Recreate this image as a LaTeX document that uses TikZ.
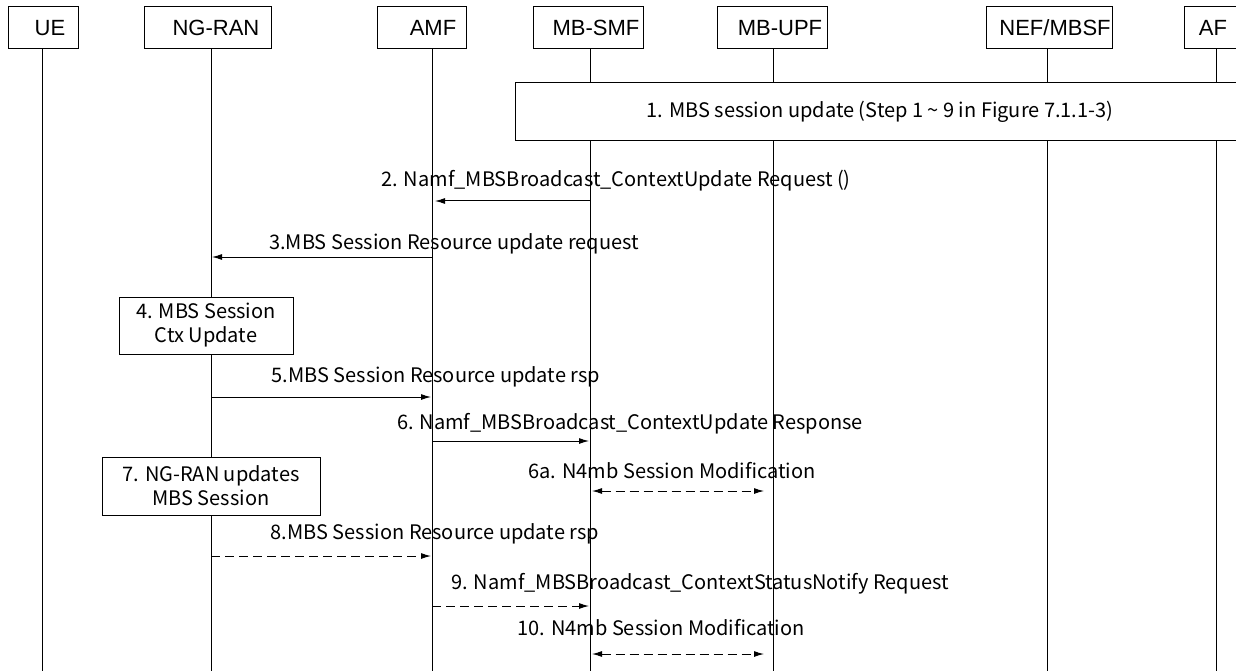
\documentclass[tikz,border=0pt]{standalone}
\usepackage{fontspec}
\setmainfont{Liberation Sans}
\newfontfamily\msgfont{Noto Sans CJK KR}
\usetikzlibrary{arrows.meta, positioning}

\begin{document}
\begin{tikzpicture}[x=1pt, y=-1pt, line width=1pt,
        hdr/.style={draw, minimum height=42pt, inner sep=0pt},
        hdrtxt/.style={inner sep=0pt, font=\fontsize{22}{26}\selectfont},
        lbl/.style={inner sep=0pt, anchor=base, font=\msgfont\fontsize{20}{24}\selectfont},
        actbox/.style={draw, fill=white, inner sep=0pt, align=center, font=\msgfont\fontsize{20}{24}\selectfont},
        msg/.style={-{Latex[length=10pt,width=6pt]}, shorten >=1pt},
        rsp/.style={msg, dash pattern=on 9pt off 5pt},
        bidir/.style={{Latex[length=10pt,width=6pt]}-{Latex[length=10pt,width=6pt]}, shorten <=2pt, shorten >=9pt, dash pattern=on 9pt off 5pt}]
        \useasboundingbox (0,0) rectangle (1236,671);
        % entities
        \node[hdr, minimum width=70pt] (ue) at (43,28) {};
        \node[hdrtxt] (ue-t) at (50,28) {UE};
        \node[hdr, minimum width=127pt] (ngran) at (207.5,28) {};
        \node[hdrtxt] (ngran-t) at (216,28) {NG-RAN};
        \node[hdr, minimum width=89pt] (amf) at (421.5,28) {};
        \node[hdrtxt] (amf-t) at (433,28) {AMF};
        \node[hdr, minimum width=110pt] (mbsmf) at (588,28) {};
        \node[hdrtxt] (mbsmf-t) at (596,28) {MB-SMF};
        \node[hdr, minimum width=110pt] (mbupf) at (772,28) {};
        \node[hdrtxt] (mbupf-t) at (780,28) {MB-UPF};
        \node[hdr, minimum width=126pt] (nef) at (1049,28) {};
        \node[hdrtxt] (nef-t) at (1055,28) {NEF/MBSF};
        \node[hdr, minimum width=70pt] (af) at (1219,28) {};
        \node[hdrtxt] (af-t) at (1213,28) {AF};
        % lifelines
        \coordinate (bot) at (0,671);
        \coordinate (ue-l) at (42,49);
        \coordinate (ngran-l) at (211,49);
        \coordinate (amf-l) at (432,49);
        \coordinate (mbsmf-l) at (590,49);
        \coordinate (mbupf-l) at (773,49);
        \coordinate (nef-l) at (1047,49);
        \coordinate (af-l) at (1216,49);
        \foreach \e in {ue,ngran,amf,mbsmf,mbupf,nef,af}
            \draw (\e-l) -- (\e-l |- bot);
        % step 1
        \node[actbox, minimum width=730pt, minimum height=58pt] (s1) at (880,112) {1. MBS session update (Step 1 \textasciitilde{} 9 in Figure 7.1.1-3)};
        % message rows
        \coordinate (m2) at (0,201);
        \coordinate (m3) at (0,257);
        \coordinate (m5) at (0,397);
        \coordinate (m6) at (0,441);
        \coordinate (m6a) at (0,491);
        \coordinate (m8) at (0,556);
        \coordinate (m9) at (0,606);
        \coordinate (m10) at (0,654);
        \node[lbl] (l2) at (616,186) {2. Namf\_MBSBroadcast\_ContextUpdate Request ()};
        \draw[msg, shorten >=3pt] (mbsmf-l |- m2) -- (amf-l |- m2);
        \node[lbl] (l3) at (454,249) {3.MBS Session Resource update request};
        \draw[msg] (amf-l |- m3) -- (ngran-l |- m3);
        \node[actbox, minimum width=174pt, minimum height=57pt] (s4) at (206,325.5) {4. MBS Session\\Ctx Update};
        \node[lbl] (l5) at (436,382) {5.MBS Session Resource update rsp};
        \draw[msg] (ngran-l |- m5) -- (amf-l |- m5);
        \node[lbl] (l6) at (630,429) {6. Namf\_MBSBroadcast\_ContextUpdate Response};
        \draw[msg] (amf-l |- m6) -- (mbsmf-l |- m6);
        \node[actbox, minimum width=218pt, minimum height=58pt] (s7) at (211,486) {7. NG-RAN updates\\MBS Session};
        \node[lbl] (l6a) at (672,478) {6a. N4mb Session Modification};
        \draw[bidir] (mbsmf-l |- m6a) -- (mbupf-l |- m6a);
        \node[lbl] (l8) at (435,539) {8.MBS Session Resource update rsp};
        \draw[rsp] (ngran-l |- m8) -- (amf-l |- m8);
        \node[lbl] (l9) at (700,589) {9. Namf\_MBSBroadcast\_ContextStatusNotify Request};
        \draw[rsp] (amf-l |- m9) -- (mbsmf-l |- m9);
        \node[lbl] (l10) at (661,635) {10. N4mb Session Modification};
        \draw[bidir] (mbsmf-l |- m10) -- (mbupf-l |- m10);
\end{tikzpicture}
\end{document}
